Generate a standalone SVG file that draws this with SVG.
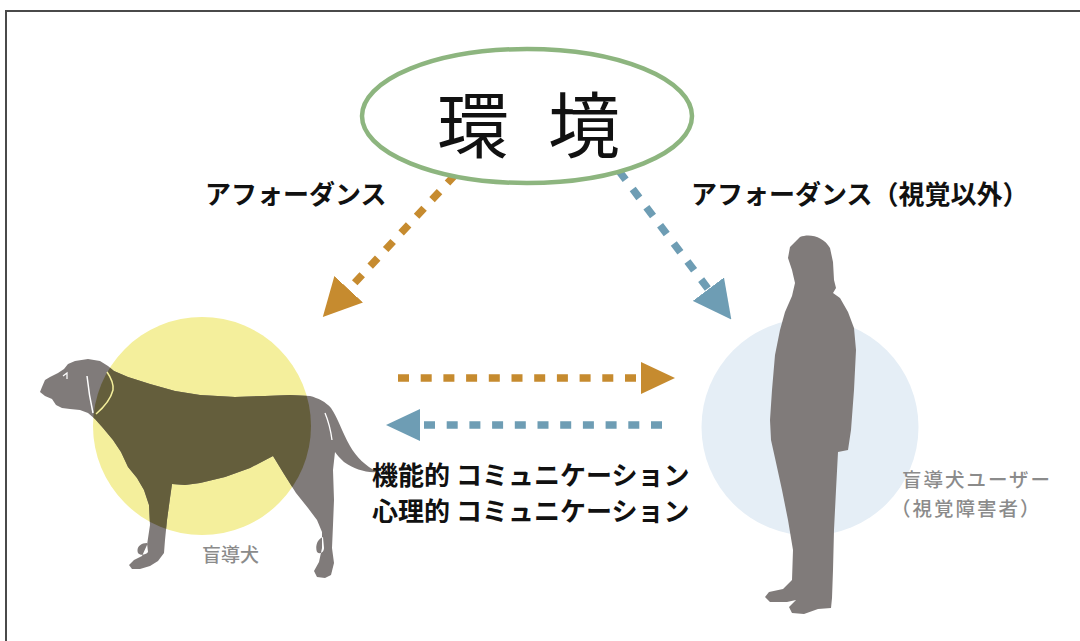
<svg xmlns="http://www.w3.org/2000/svg" xmlns:xlink="http://www.w3.org/1999/xlink" width="1080" height="641" viewBox="0 0 1080 641">
  <style>
    .jp { font-family: "Noto Sans CJK JP", "Noto Sans", sans-serif; }
    .label { font-size: 26px; font-weight: 700; fill: #111; }
    .caption { font-weight: 500; fill: #8b8b8b; }
    .silhouette { fill: #807b7a; }
    .dash-o { fill: none; stroke: #c68b2f; stroke-width: 7.5; stroke-dasharray: 11 11.7; }
    .dash-b { fill: none; stroke: #6e9db4; stroke-width: 7.5; stroke-dasharray: 11 11.7; }
  </style>
  <defs>
    <marker id="head-o" viewBox="0 0 38 39" refX="1" refY="19.5" markerWidth="38" markerHeight="39" markerUnits="userSpaceOnUse" orient="auto">
      <path d="M0,0 L38,19.5 L0,39 Z" fill="#c68b2f"/>
    </marker>
    <marker id="head-b" viewBox="0 0 38 39" refX="1" refY="19.5" markerWidth="38" markerHeight="39" markerUnits="userSpaceOnUse" orient="auto">
      <path d="M0,0 L38,19.5 L0,39 Z" fill="#6e9db4"/>
    </marker>
    <marker id="head-o-s" viewBox="0 0 34 32" refX="1" refY="16" markerWidth="34" markerHeight="32" markerUnits="userSpaceOnUse" orient="auto">
      <path d="M0,0 L34,16 L0,32 Z" fill="#c68b2f"/>
    </marker>
    <marker id="head-b-s" viewBox="0 0 34 32" refX="1" refY="16" markerWidth="34" markerHeight="32" markerUnits="userSpaceOnUse" orient="auto">
      <path d="M0,0 L34,16 L0,32 Z" fill="#6e9db4"/>
    </marker>
    <clipPath id="dog-circle-clip">
      <circle cx="202" cy="426" r="109"/>
    </clipPath>
    <!-- side view of a standing guide dog, facing left -->
    <path id="dog-shape" d="M45,380 L50,377 L58,373 L64,369 L68,364 L75,361 L88,359 L100,361 L108,366 L114,371
      L128,377 L150,384 L175,391 L200,395 L235,397 L265,396 L290,395 L310,396
      C318,398 326,402 331,408 C338,418 342,432 350,446 C356,457 366,466 377,472
      C366,473 354,469 344,462 C340,458 337,455 335,452
      L333,470 L334,500 L333,525 L332,548 L334,563 L331,575 L325,578 L317,577 L314,571 L319,562 L322,548 L322,532 L317,520 L308,508 L296,493 L284,474 L273,456
      L250,468 L225,477 L200,483 L185,485 L172,484
      L170,498 L167,520 L165,540 L164,553 L158,561 L150,566 L140,569 L132,569 L129,565 L134,560 L142,556 L147,545 L150,525 L149,505 L144,490 L137,478 L128,467 L121,452 L113,440 L103,428 L95,419 L88,413 L80,410 L70,409 L62,408 L56,405 L52,399 L45,396 L40,392 L42,387 Z
      M147,543 C140,543 136,548 138,553 C140,556 146,555 148,552 Z
      M323,537 C317,539 315,547 317,552 C320,555 324,552 324,548 Z"/>
  </defs>

  <rect width="1080" height="641" fill="#ffffff"/>
  <!-- outer frame, open to the right and bottom -->
  <rect id="frame" x="6" y="11" width="1100" height="700" fill="none" stroke="#4a4a4a" stroke-width="2"/>

  <!-- guide dog -->
  <g id="node-dog">
    <circle cx="202" cy="426" r="109" fill="#f4ef9c"/>
    <use xlink:href="#dog-shape" class="silhouette"/>
    <use xlink:href="#dog-shape" fill="#645e3c" clip-path="url(#dog-circle-clip)"/>
    <path d="M87,376 Q89,395 93,413" fill="none" stroke="#ffffff" stroke-width="1.5"/>
    <path d="M107,372 Q114,382 113,390 Q110,402 96,414" fill="none" stroke="#f4ef9c" stroke-width="1.5"/>
    <path d="M63,376 L67,373 L67,379" fill="none" stroke="#ffffff" stroke-width="1.2"/>
    <path d="M325,413 Q330,425 332,440" fill="none" stroke="#ffffff" stroke-width="1.3"/>
    <text class="jp caption" x="202" y="562" font-size="19">盲導犬</text>
  </g>

  <!-- guide dog user -->
  <g id="node-user">
    <circle cx="810" cy="427" r="108.5" fill="#e5eef6"/>
    <!-- standing person, facing left -->
    <path class="silhouette" d="M800,237 C810,233 824,237 830,248 L833,262 L834,280 L836,288 L833,293 L840,298 L848,312 L854,328 L856,350 L854,390 L851,430 L848,450 L838,452 L836,490 L834,530 L833,570 L832,598 L831,608 L818,609 L804,614 L792,613 L789,607 L796,600 L787,602 L770,602 L765,597 L769,592 L783,589 L792,580 L793,550 L788,520 L782,490 L775,458 L771,440 L770,420 L772,390 L775,355 L780,330 L785,312 L792,296 L795,283 L792,270 L788,258 L790,247 Z"/>
    <text class="jp caption" font-size="19.5" letter-spacing="2"><tspan x="902" y="487">盲導犬ユーザー</tspan><tspan x="891" y="516">（視覚障害者）</tspan></text>
  </g>

  <!-- arrows between environment, dog and user -->
  <g id="connectors">
    <path class="dash-o" d="M455,175 L348,290" marker-end="url(#head-o)"/>
    <path class="dash-b" d="M619,171 L709,290" marker-end="url(#head-b)"/>
    <path class="dash-o" d="M398,378 H642" marker-end="url(#head-o-s)"/>
    <path class="dash-b" d="M662,425 H419" marker-end="url(#head-b-s)"/>
  </g>

  <!-- environment -->
  <g id="node-env">
    <ellipse cx="527" cy="116" rx="165" ry="67" fill="#ffffff" stroke="#8db57f" stroke-width="4.5"/>
    <text class="jp" x="437" y="152" font-size="72" fill="#111">環</text>
    <text class="jp" x="548" y="152" font-size="72" fill="#111">境</text>
  </g>

  <g id="labels">
    <text class="jp label" x="205" y="204">アフォーダンス</text>
    <text class="jp label" x="691" y="204">アフォーダンス（視覚以外）</text>
    <text class="jp label" x="372" y="485">機能的 コミュニケーション</text>
    <text class="jp label" x="372" y="521">心理的 コミュニケーション</text>
  </g>
</svg>
